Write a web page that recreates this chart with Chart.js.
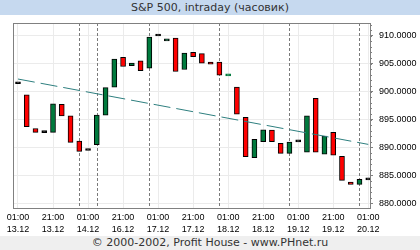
<!DOCTYPE html>
<html>
<head>
<meta charset="utf-8">
<script src="https://cdn.jsdelivr.net/npm/chart.js@4/dist/chart.umd.min.js"></script>
<style>
  html, body { margin: 0; padding: 0; background: #fff; }
  #wrap { position: relative; width: 420px; height: 250px; overflow: hidden; }
  #c { position: absolute; left: 0; top: 0; }
  #title { position: absolute; left: 0; top: 0; width: 420px; height: 15px; background: #c6d9ef;
           font: 11px "DejaVu Sans", sans-serif; color: #333; text-align: center; line-height: 15px; }
  #foot { position: absolute; left: 0; top: 236px; width: 420px; height: 14px; background: #efefef;
          font: 11px "DejaVu Sans", sans-serif; color: #333; text-align: center; line-height: 14px; }
</style>
</head>
<body>
<div id="wrap">
  <canvas id="c" width="420" height="250"></canvas>
  <div id="title">S&amp;P 500, intraday (часовик)</div>
  <div id="foot">© 2000-2002, Profit House - www.PHnet.ru</div>
</div>
<script>
// ---- data ----
const tickTimes = ['01:00','21:00','01:00','21:00','01:00','21:00','01:00','21:00','01:00','21:00','01:00'];
const tickDates = ['13.12','13.12','14.12','16.12','17.12','17.12','18.12','18.12','19.12','19.12','20.12'];
const tickIndex = [0,4,8,12,16,20,24,28,32,36,40];
const dayBreaks = [7,9,15,23,31,39];
const yTicks = [880,885,890,895,900,905,910];

const opens  = [901.4,899.4,893.4,892.65,892.7,897.7,895.65,891.15,889.45,890.5,
                895.8,900.8,906.15,904.65,905.5,904.2,909.95,909.05,909.6,903.95,
                907.05,906.8,905.3,905.3,902.8,900.8,895.4,888.15,891.05,893.1,
                890.75,888.95,891.0,889.15,898.8,888.8,892.7,888.4,883.8,883.4,884.2];
const highs  = [901.4,899.4,893.4,893.7,897.8,898.0,895.65,892.95,889.45,895.8,
                901.15,905.8,906.75,905.75,906.6,909.75,909.95,910.15,910.9,907.05,
                907.05,907.0,906.6,905.3,902.9,900.8,895.4,891.65,893.3,895.25,
                894.05,891.7,891.0,896.35,898.8,892.25,892.7,888.4,885.8,884.3,884.2];
const lows   = [901.4,892.8,888.4,890.45,890.9,894.75,890.7,889.3,889.45,890.5,
                895.8,900.8,904.2,903.3,903.75,904.2,909.95,906.6,903.6,903.95,
                904.85,904.5,904.1,901.6,902.8,894.95,888.35,887.75,890.85,890.15,
                888.95,888.2,890.75,888.95,889.15,886.55,886.4,882.8,882.8,880.3,884.2];
const closes = [901.4,893.7,892.7,892.65,897.8,895.65,890.9,889.3,889.45,895.8,
                900.7,905.8,904.5,905.1,903.75,909.75,909.95,909.45,903.6,906.9,
                906.25,905.1,904.9,902.95,902.9,895.95,888.35,891.45,893.15,891.05,
                888.95,890.95,891.0,895.65,889.15,892.05,888.6,884.1,883.4,884.3,884.2];
const trendX = [0, 40];
const trendY = [902.25, 890.55];

// ---- colours ----
const UP = '#007a3d', DOWN = '#ff0000', DOJI = '#000000';
function fillFor(i){ return closes[i] > opens[i] ? UP : (closes[i] < opens[i] ? DOWN : DOJI); }

const bodies = opens.map((o,i) => ({x: i, y: [o, closes[i]]}));
const wicks = lows.map((l,i) => highs[i] > l ? {x: i, y: [l, highs[i]]} : null);
const trend = trendX.map((x,i) => ({x, y: trendY[i]}));

const decor = {
  id: 'decor',
  beforeDatasetsDraw(chart){
    const {ctx, chartArea: a, scales: {x}} = chart;
    ctx.save();
    ctx.strokeStyle = '#7a7a7a'; ctx.lineWidth = 1; ctx.setLineDash([3,2]);
    dayBreaks.forEach(d => {
      const px = Math.round(x.getPixelForValue(d)) + 0.5;
      ctx.beginPath(); ctx.moveTo(px, a.top); ctx.lineTo(px, a.bottom); ctx.stroke();
    });
    ctx.restore();
  },
  afterDraw(chart){
    const {ctx, chartArea: a, scales: {y}} = chart;
    ctx.save();
    ctx.strokeStyle = '#808080'; ctx.lineWidth = 1;
    ctx.strokeRect(Math.round(a.left)+0.5, Math.round(a.top)+0.5, Math.round(a.right-a.left), Math.round(a.bottom-a.top));
    // minor ticks on right axis
    for (let v = Math.ceil(y.min); v <= y.max; v++) {
      const py = Math.round(y.getPixelForValue(v)) + 0.5;
      ctx.beginPath(); ctx.moveTo(a.right, py); ctx.lineTo(a.right + 2, py); ctx.stroke();
    }
    ctx.restore();
  }
};

new Chart(document.getElementById('c'), {
  type: 'bar',
  data: {
    datasets: [
      { type: 'line', data: trend, borderColor: '#2e7f7f', borderWidth: 1, borderDash: [17,6],
        pointRadius: 0, fill: false, order: 0 },
      { data: bodies, grouped: false, barThickness: 5, minBarLength: 2, borderSkipped: false,
        backgroundColor: c => fillFor(c.dataIndex),
        borderColor: c => (Math.abs(closes[c.dataIndex]-opens[c.dataIndex]) < 0.3 ? fillFor(c.dataIndex) : '#000'),
        borderWidth: 1, order: 1 },
      { data: wicks, grouped: false, barThickness: 1, backgroundColor: '#000', borderWidth: 0, order: 2 }
    ]
  },
  options: {
    responsive: false, animation: false,
    layout: { padding: { left: 13, top: 23, right: 0, bottom: 0 } },
    plugins: { legend: { display: false }, tooltip: { enabled: false }, title: { display: false } },
    scales: {
      x: {
        type: 'linear', min: -0.57, max: 40.2, offset: false,
        afterBuildTicks: s => { s.ticks = tickIndex.map(v => ({value: v})); },
        afterFit: s => { s.height = 42; },
        grid: { offset: false, color: '#ebebeb', drawTicks: false },
        border: { display: false },
        ticks: { padding: 3, maxRotation: 0, autoSkip: false, color: '#000',
                 font: { family: 'Liberation Sans', size: 9, lineHeight: 1.4 },
                 callback: v => { const k = tickIndex.indexOf(v); return k < 0 ? '' : [tickTimes[k], tickDates[k]]; } }
      },
      y: {
        position: 'right', min: 879.16, max: 912.28,
        afterBuildTicks: s => { s.ticks = yTicks.map(v => ({value: v})); },
        afterFit: s => { s.width = 50; },
        grid: { color: '#ebebeb', tickColor: '#808080', tickLength: 3 },
        border: { display: true, color: '#808080' },
        ticks: { padding: 6, color: '#000', font: { family: 'Liberation Sans', size: 9 },
                 callback: v => v.toFixed(4) }
      }
    }
  },
  plugins: [decor]
});
</script>
</body>
</html>
